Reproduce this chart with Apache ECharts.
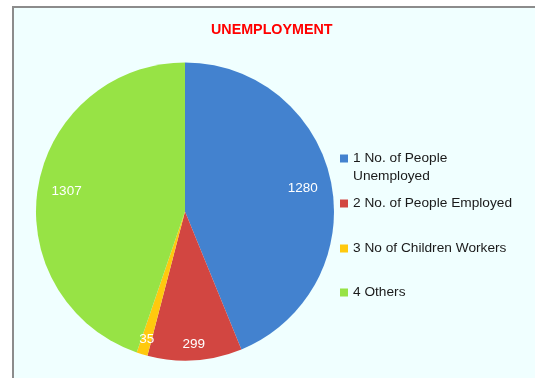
<!DOCTYPE html>
<html>
<head>
<meta charset="utf-8">
<script src="https://cdn.jsdelivr.net/npm/echarts@6/dist/echarts.min.js"></script>
<style>
html,body{margin:0;padding:0;background:#fff;overflow:hidden;}
#chart{width:535px;height:378px;}
</style>
</head>
<body>
<div id="chart"></div>
<script>
var titleText = 'UNEMPLOYMENT';
var categories = ['1 No. of People\nUnemployed', '2 No. of People Employed', '3 No of Children Workers', '4 Others'];
var values = [1280, 299, 35, 1307];
var colors = ['#4382CF', '#D24641', '#FFC90E', '#97E345'];

var chart = echarts.init(document.getElementById('chart'), null, {renderer: 'canvas'});

var pieData = categories.map(function (c, i) {
  return {name: c, value: values[i], itemStyle: {color: colors[i]}};
});

function labelData(showIdx) {
  return categories.map(function (c, i) {
    return {
      name: c, value: values[i],
      itemStyle: {color: 'rgba(0,0,0,0)'},
      label: {show: showIdx.indexOf(i) >= 0}
    };
  });
}

var labelStyle = {
  position: 'inside',
  color: '#ffffff',
  fontFamily: 'Liberation Sans',
  fontSize: 13.5,
  formatter: '{c}'
};

var legendTops = [131.5, 194.5, 239.5, 283.5];
var legends = categories.map(function (c, i) {
  return {
    data: [c],
    orient: 'vertical',
    left: 340,
    top: legendTops[i],
    padding: 0,
    itemWidth: 8,
    itemHeight: 8,
    icon: 'rect',
    selectedMode: false,
    formatter: function (name) {
      return name.indexOf('\n') >= 0 ? ' \n' + name : name;
    },
    textStyle: {
      fontFamily: 'Liberation Sans',
      fontSize: 13.7,
      color: '#1a1a1a',
      lineHeight: 18
    }
  };
});

var option = {
  animation: false,
  backgroundColor: '#ffffff',
  graphic: [
    {
      type: 'rect', z: -10, silent: true,
      shape: {x: 13, y: 7, width: 700, height: 500},
      style: {fill: '#F0FFFF'}
    },
    {
      type: 'polyline', z: -9, silent: true,
      shape: {points: [[13, 600], [13, 7], [700, 7]]},
      style: {stroke: '#8C8C8C', lineWidth: 2, fill: null}
    }
  ],
  title: {
    text: titleText,
    left: 211,
    top: 23,
    padding: 0,
    textStyle: {
      color: '#FF0000',
      fontFamily: 'Liberation Sans',
      fontWeight: 'bold',
      fontSize: 14.3
    }
  },
  legend: legends,
  series: [
    {
      type: 'pie',
      center: [185, 211.5],
      radius: [0, 149],
      startAngle: 90,
      clockwise: true,
      silent: true,
      label: {show: false},
      labelLine: {show: false},
      data: pieData
    },
    {
      type: 'pie',
      center: [185, 211.5],
      radius: [98, 136],
      startAngle: 90,
      clockwise: true,
      silent: true,
      label: labelStyle,
      labelLine: {show: false},
      data: labelData([0, 3])
    },
    {
      type: 'pie',
      center: [185, 211.5],
      radius: [114, 146],
      startAngle: 90,
      clockwise: true,
      silent: true,
      label: labelStyle,
      labelLine: {show: false},
      data: labelData([1, 2])
    }
  ]
};
chart.setOption(option);
</script>
</body>
</html>
